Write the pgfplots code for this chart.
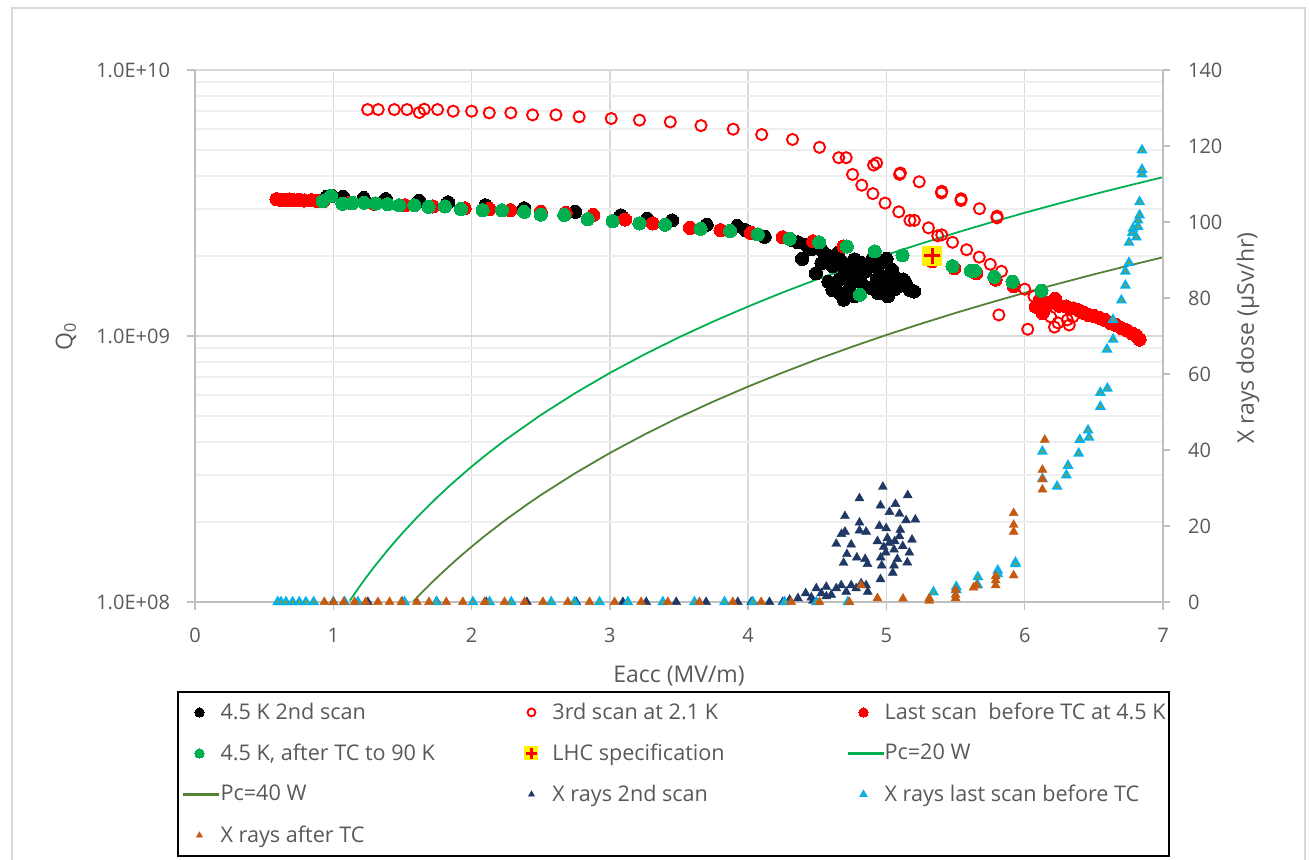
\documentclass[border=0pt]{standalone}
\usepackage{pgfplots}
\pgfplotsset{compat=1.18}
\usepackage{fontspec}
\setmainfont{Open Sans}
\definecolor{tg}{HTML}{595959}
\definecolor{gridc}{HTML}{D9D9D9}
\definecolor{minorc}{HTML}{EFEFEF}
\definecolor{axisc}{HTML}{BFBFBF}
\definecolor{xgreen}{HTML}{00B050}
\definecolor{olivec}{HTML}{548235}
\definecolor{navyc}{HTML}{203864}
\definecolor{cyanc}{HTML}{00B0F0}
\definecolor{cyanfill}{HTML}{7BA144}
\definecolor{orangec}{HTML}{C55A11}
\pgfdeclareplotmark{lhc}{%
 \pgfpathrectangle{\pgfpoint{-\pgfplotmarksize}{-\pgfplotmarksize}}{\pgfpoint{2\pgfplotmarksize}{2\pgfplotmarksize}}%
 \pgfsetfillcolor{yellow}\pgfusepathqfill
 \pgfsetlinewidth{0.3\pgfplotmarksize}%
 \pgfsetstrokecolor{red}%
 \pgfpathmoveto{\pgfpoint{-0.78\pgfplotmarksize}{0pt}}\pgfpathlineto{\pgfpoint{0.78\pgfplotmarksize}{0pt}}%
 \pgfpathmoveto{\pgfpoint{0pt}{-0.78\pgfplotmarksize}}\pgfpathlineto{\pgfpoint{0pt}{0.78\pgfplotmarksize}}%
 \pgfusepathqstroke}
\pgfplotsset{
 s2nd/.style={only marks, mark=*, mark size=3.3pt, mark options={draw=black, fill=black, line width=0pt}},
 s3rd/.style={only marks, mark=o, mark size=2.8pt, mark options={draw=red, line width=0.95pt}},
 slast/.style={only marks, mark=*, mark size=3.3pt, mark options={draw=red, fill=red, line width=0pt}},
 sgreen/.style={only marks, mark=*, mark size=3.3pt, mark options={draw=xgreen, fill=xgreen, line width=0pt}},
 slhc/.style={only marks, mark=lhc, mark size=5pt},
 spc20/.style={no marks, color=xgreen, draw=xgreen, line width=0.9pt},
 spc40/.style={no marks, color=olivec, draw=olivec, line width=0.9pt},
 sx2/.style={only marks, mark=triangle*, mark size=2.6pt, mark options={draw=navyc, fill=navyc, line width=0.2pt}},
 sxl/.style={only marks, mark=triangle*, mark size=2.3pt, mark options={draw=cyanc, fill=cyanfill, line width=0.9pt}},
 sxa/.style={only marks, mark=triangle*, mark size=2.6pt, mark options={draw=orangec, fill=orangec, line width=0.2pt}},
 ax/.style={at={(0pt,0pt)}, anchor=south west, scale only axis, width=484pt, height=266pt,
   xmin=0, xmax=7, clip=false,
   axis line style={draw=axisc, line width=0.75pt},
   tick align=outside, major tick length=4pt,
   tick style={draw=axisc, line width=0.75pt},
   ticklabel style={font=\fontsize{10}{12}\selectfont, text=tg},
   /pgf/number format/assume math mode=true,
   label style={font=\fontsize{11.5}{14}\selectfont, text=tg}},
}
\begin{document}
\begin{tikzpicture}
\useasboundingbox (-97.5pt,-128.5pt) rectangle (557pt,301pt);
\draw[draw=gridc, line width=0.75pt] (-91.5pt,-150pt) rectangle (555pt,297pt);
\begin{axis}[ax,
  ymode=log, ymin=1e8, ymax=1e10,
  axis x line*=bottom, axis y line*=left,
  xtick={0,1,2,3,4,5,6,7},
  ytick={1e8,1e9,1e10}, yticklabels={1.0E+08,1.0E+09,1.0E+10},
  minor ytick={2e8,3e8,4e8,5e8,6e8,7e8,8e8,9e8,2e9,3e9,4e9,5e9,6e9,7e9,8e9,9e9},
  minor tick length=0pt,
  xmajorgrids, ymajorgrids, yminorgrids,
  major grid style={draw=gridc, line width=0.75pt},
  minor grid style={draw=minorc, line width=0.75pt},
  xticklabel style={yshift=-5.5pt},
  yticklabel style={xshift=-5pt},
  xlabel={Eacc (MV/m)}, ylabel={Q\textsubscript{0}},
  xlabel style={at={(axis description cs:0.5,-0.139)}, anchor=center},
  ylabel style={at={(axis description cs:-0.1333,0.5)}, anchor=center},
]
% 4.5 K 2nd scan
\addplot[s2nd] coordinates {
(0.95,3.33e9)(0.99,3.36e9)(1.07,3.33e9)(1.22,3.30e9)(1.38,3.27e9)(1.62,3.22e9)(1.83,3.18e9)
(2.10,3.10e9)(2.38,3.02e9)(2.75,2.93e9)(3.08,2.84e9)(3.27,2.76e9)(3.45,2.72e9)(3.70,2.62e9)
(3.92,2.59e9)(3.98,2.50e9)(4.12,2.36e9)
(4.31,2.30e9)(4.36,2.25e9)(4.42,2.20e9)(4.39,1.95e9)(4.46,2.12e9)(4.53,2.11e9)(4.58,2.00e9)
(4.49,1.72e9)(4.53,1.88e9)(4.61,1.83e9)(4.69,1.88e9)(4.77,1.94e9)(4.82,1.88e9)(4.61,1.49e9)
(4.69,1.37e9)(4.77,1.41e9)(4.74,1.58e9)(4.66,1.63e9)(4.82,1.58e9)(4.80,1.67e9)(4.88,1.83e9)
(4.96,1.88e9)(5.04,1.77e9)(5.06,1.67e9)(5.12,1.63e9)(5.09,1.54e9)(5.17,1.49e9)(5.20,1.47e9)
(4.94,1.45e9)(5.01,1.41e9)(4.93,1.63e9)(4.98,1.58e9)(4.90,1.95e9)(4.55,2.05e9)(4.62,1.95e9)
(4.70,1.75e9)(4.65,2.05e9)(4.72,1.70e9)(4.85,1.75e9)(4.95,1.70e9)(5.00,1.95e9)(4.58,1.60e9)
(4.66,1.45e9)(4.73,1.50e9)(4.78,1.80e9)(5.14,1.58e9)(4.88,1.52e9)(5.06,1.50e9)(4.99,1.66e9)
};
% 3rd scan at 2.1 K
\addplot[s3rd] coordinates {
(1.248,7.10e9)(1.325,7.10e9)(1.441,7.10e9)(1.533,7.10e9)(1.622,6.92e9)(1.658,7.12e9)(1.754,7.10e9)
(1.867,7.00e9)(2.000,7.00e9)(2.128,6.90e9)(2.284,6.90e9)(2.441,6.78e9)(2.610,6.78e9)(2.778,6.67e9)
(3.010,6.57e9)(3.214,6.48e9)(3.437,6.38e9)(3.659,6.18e9)(3.892,5.99e9)(4.098,5.72e9)(4.321,5.48e9)
(4.516,5.12e9)(4.655,4.68e9)(4.709,4.68e9)(4.907,4.39e9)(4.929,4.47e9)(4.755,4.05e9)(4.822,3.69e9)
(4.902,3.43e9)(4.990,3.16e9)(5.089,2.93e9)(5.170,2.72e9)(5.202,2.72e9)(5.304,2.55e9)(5.371,2.38e9)
(5.400,2.40e9)(5.478,2.25e9)(5.580,2.11e9)(5.671,1.98e9)(5.751,1.86e9)(5.832,1.75e9)(6.000,1.50e9)
(6.067,1.41e9)(6.161,1.29e9)(6.188,1.18e9)(6.241,1.12e9)(6.308,1.15e9)(5.813,1.20e9)(6.022,1.06e9)
(6.215,1.08e9)(6.322,1.10e9)(6.348,1.18e9)(6.121,1.33e9)(5.095,4.05e9)(5.101,4.10e9)(5.237,3.80e9)
(5.398,3.45e9)(5.400,3.50e9)(5.539,3.23e9)(5.540,3.28e9)(5.673,3.01e9)(5.799,2.78e9)(5.800,2.82e9)
};
% Last scan before TC at 4.5 K
\addplot[slast] coordinates {
(0.59,3.27e9)(0.62,3.25e9)(0.65,3.25e9)(0.68,3.26e9)(0.71,3.24e9)(0.75,3.25e9)(0.79,3.23e9)
(0.84,3.24e9)(0.88,3.22e9)(0.93,3.22e9)(1.12,3.17e9)(1.30,3.14e9)(1.52,3.10e9)(1.72,3.07e9)
(1.95,3.02e9)(2.13,3.00e9)(2.28,2.97e9)(2.50,2.93e9)(2.68,2.90e9)(2.88,2.85e9)(3.11,2.74e9)
(3.31,2.65e9)(3.58,2.55e9)(3.80,2.50e9)(4.02,2.44e9)(4.25,2.35e9)(4.47,2.27e9)(4.69,2.17e9)
(5.33,1.91e9)(5.49,1.80e9)(5.65,1.72e9)(5.79,1.63e9)(5.92,1.54e9)(6.08,1.29e9)(6.11,1.37e9)
(6.13,1.22e9)(6.16,1.33e9)(6.22,1.38e9)(6.25,1.30e9)(6.30,1.29e9)(6.35,1.27e9)(6.39,1.25e9)
(6.43,1.22e9)(6.46,1.20e9)(6.50,1.19e9)(6.54,1.17e9)(6.58,1.15e9)(6.62,1.12e9)(6.66,1.10e9)
(6.70,1.07e9)(6.74,1.05e9)(6.78,1.02e9)(6.81,1.00e9)(6.83,0.97e9)
};
% 4.5 K after TC to 90 K
\addplot[sgreen] coordinates {
(0.923,3.21e9)(0.983,3.36e9)(1.067,3.14e9)(1.140,3.16e9)(1.224,3.17e9)(1.308,3.15e9)(1.393,3.13e9)
(1.477,3.10e9)(1.586,3.10e9)(1.689,3.06e9)(1.807,3.07e9)(1.923,3.00e9)(2.080,2.97e9)(2.220,2.97e9)
(2.380,2.93e9)(2.500,2.86e9)(2.670,2.85e9)(2.840,2.75e9)(3.020,2.70e9)(3.214,2.65e9)(3.400,2.62e9)
(3.656,2.53e9)(3.870,2.48e9)(4.070,2.41e9)(4.300,2.32e9)(4.513,2.25e9)(4.714,2.17e9)(4.915,2.08e9)
(5.116,2.01e9)(5.478,1.83e9)(5.610,1.76e9)(5.640,1.76e9)(5.780,1.67e9)(5.912,1.60e9)(6.121,1.48e9)
(4.808,1.43e9)
};
% LHC specification
\addplot[slhc] coordinates {(5.33,2.0e9)};
% Pc = 20 W
\addplot[spc20] coordinates {
(1.12,1.012e8)(1.16,1.086e8)(1.20,1.162e8)(1.25,1.261e8)(1.30,1.364e8)(1.40,1.582e8)(1.5,1.816e8)
(1.60,2.066e8)(1.75,2.471e8)(1.85,2.762e8)(2.0,3.228e8)(2.12,3.627e8)(2.25,4.085e8)(2.5,5.044e8)
(2.75,6.103e8)(3.0,7.263e8)(3.25,8.524e8)(3.5,9.886e8)(3.75,1.135e9)(4.0,1.291e9)(4.25,1.458e9)
(4.5,1.634e9)(4.75,1.821e9)(5.0,2.018e9)(5.25,2.224e9)(5.5,2.441e9)(5.75,2.668e9)(6.0,2.905e9)
(6.25,3.152e9)(6.5,3.410e9)(6.75,3.677e9)(7.0,3.954e9)
};
% Pc = 40 W
\addplot[spc40] coordinates {
(1.58,1.007e8)(1.62,1.059e8)(1.66,1.112e8)(1.70,1.166e8)(1.75,1.236e8)(1.80,1.307e8)(1.90,1.457e8)
(2.0,1.614e8)(2.1,1.779e8)(2.25,2.043e8)(2.4,2.324e8)(2.5,2.522e8)(2.75,3.051e8)(3.0,3.632e8)
(3.25,4.262e8)(3.5,4.943e8)(3.75,5.674e8)(4.0,6.456e8)(4.25,7.288e8)(4.5,8.171e8)(4.75,9.104e8)
(5.0,1.009e9)(5.25,1.112e9)(5.5,1.221e9)(5.75,1.334e9)(6.0,1.453e9)(6.25,1.576e9)(6.5,1.705e9)
(6.75,1.838e9)(7.0,1.977e9)
};
\end{axis}
\begin{axis}[ax,
  ymin=0, ymax=140,
  axis y line*=right, axis x line=none,
  ytick={0,20,40,60,80,100,120,140},
  major tick length=3.5pt,
  yticklabel style={xshift=5.5pt},
  ylabel={X rays dose (µSv/hr)},
  ylabel style={at={(axis description cs:1.0878,0.496)}, anchor=center},
  legend columns=3,
  legend cell align=left,
  legend style={at={(axis description cs:-0.0186,-0.1673)}, anchor=north west,
    draw=black, line width=0.9pt, inner xsep=2.25pt, inner ysep=0pt,
    row sep=0pt, column sep=0pt,
    nodes={inner sep=0pt, minimum height=20.5pt, font=\fontsize{10.8}{13}\selectfont, text=tg}},
  legend image code/.code={%
    \path (0pt,0pt) (18pt,0pt);
    \draw[mark repeat=2, mark phase=2, line width=1.1pt, /tikz/every mark/.append style={scale=0.7}]
      plot coordinates {(0pt,0pt) (8pt,0pt) (18pt,0pt)};},
]
\addlegendimage{s2nd}\addlegendentry{\makebox[147pt][l]{4.5 K 2nd scan}}
\addlegendimage{s3rd}\addlegendentry{\makebox[147pt][l]{3rd scan at 2.1 K}}
\addlegendimage{slast}\addlegendentry{\makebox[140pt][l]{Last scan\ \ before TC at 4.5 K}}
\addlegendimage{sgreen}\addlegendentry{\makebox[147pt][l]{4.5 K, after TC to 90 K}}
\addlegendimage{slhc}\addlegendentry{\makebox[147pt][l]{LHC specification}}
\addlegendimage{spc20}\addlegendentry{\makebox[140pt][l]{Pc=20 W}}
\addlegendimage{spc40}\addlegendentry{\makebox[147pt][l]{Pc=40 W}}
% X rays 2nd scan
\addplot[sx2] coordinates {
(1.0,0)(1.25,0)(1.5,0)(1.75,0)(2.106,0)(2.4,0)(2.757,0)(3.094,0)(3.263,0)(3.48,0)(3.696,0)
(3.925,0)(4.022,0)(4.154,0)(4.25,0)
(4.30,0.6)(4.36,1.0)(4.416,2.3)(4.457,1.2)(4.493,3.6)(4.529,2.3)(4.565,4.0)(4.601,1.9)(4.637,3.6)
(4.673,4.4)(4.709,2.7)(4.745,4.4)(4.781,3.6)(4.817,4.9)(4.853,4.4)(4.865,2.7)(4.565,1.5)(4.469,0.3)
(4.974,30.3)(5.154,28.1)(4.805,27.3)(4.957,25.4)(5.065,25.8)(5.022,23.7)(5.094,23.2)(4.70,22.6)
(5.209,21.7)(5.142,21.5)(4.805,20.9)(4.949,20.0)(4.998,19.4)(4.70,18.5)(4.675,17.9)(4.853,18.5)
(4.805,18.8)(5.185,16.4)(4.637,15.3)(4.745,15.1)(4.935,16.0)(5.007,16.8)(5.094,17.3)(5.118,14.7)
(5.166,13.0)(4.714,12.6)(4.786,11.7)(4.846,11.3)(4.690,10.3)(4.863,10.0)(4.959,11.7)(4.995,13.0)
(5.055,13.8)(5.079,11.3)(5.151,10.4)(5.055,9.6)(4.966,9.6)(5.046,7.7)(4.957,6.0)(5.02,15.5)
(5.10,19.0)(4.98,14.5)(5.06,16.0)
};
\addlegendentry{\makebox[147pt][l]{X rays 2nd scan}}
% X rays last scan before TC
\addplot[sxl] coordinates {
(0.598,0)(0.622,0)(0.658,0)(0.706,0)(0.754,0)(0.802,0)(0.858,0)(1.0,0)(1.082,0)(1.178,0)(1.516,0)
(1.745,0)(2.01,0)(2.13,0)(2.287,0)(2.576,0)(2.745,0)(2.925,0)(3.13,0)(3.383,0)(3.612,0)(3.829,0)
(4.034,0)(4.263,0)(4.493,0)(4.721,0)
(5.34,2.6)(5.505,4.0)(5.505,3.2)(5.661,6.6)(5.661,4.4)(5.805,8.3)(5.805,7.4)(5.933,10.4)(5.933,10.0)
(6.128,39.6)(6.128,32.4)(6.234,30.4)(6.301,33.4)(6.313,35.9)(6.390,39.1)(6.398,42.7)(6.465,43.3)
(6.458,45.2)(6.547,51.4)(6.547,55.1)(6.598,56.2)(6.595,66.5)(6.639,69.1)(6.639,74.3)(6.699,79.4)
(6.728,83.3)(6.728,87.0)(6.754,89.3)(6.754,94.6)(6.778,97.2)(6.807,96.0)(6.783,98.3)(6.819,98.8)
(6.819,100.5)(6.831,101.8)(6.831,105.3)(6.848,112.6)(6.848,113.8)(6.848,118.9)
};
\addlegendentry{\makebox[140pt][l]{X rays last scan before TC}}
% X rays after TC
\addplot[sxa] coordinates {
(0.935,0)(1.0,0)(1.075,0)(1.154,0)(1.234,0)(1.323,0)(1.407,0)(1.492,0)(1.605,0)(1.692,0)(1.817,0)
(1.937,0)(2.094,0)(2.238,0)(2.383,0)(2.516,0)(2.696,0)(2.853,0)(3.034,0)(3.226,0)(3.419,0)(3.648,0)
(3.889,0)(4.094,0)(4.311,0)(4.516,0)(4.733,0)(4.817,4.4)(4.935,1.0)(5.12,0.9)(5.31,1.0)(5.31,0.3)
(5.5,1.9)(5.5,1.0)(5.5,3.2)(5.63,3.8)(5.65,4.4)(5.79,5.7)(5.79,4.4)(5.79,6.8)(5.92,7.0)(5.92,18.5)
(5.92,20.3)(5.92,23.4)(6.128,29.6)(6.128,32.3)(6.128,34.8)(6.145,42.7)
};
\addlegendentry{\makebox[147pt][l]{X rays after TC}}
\end{axis}
\end{tikzpicture}
\end{document}
